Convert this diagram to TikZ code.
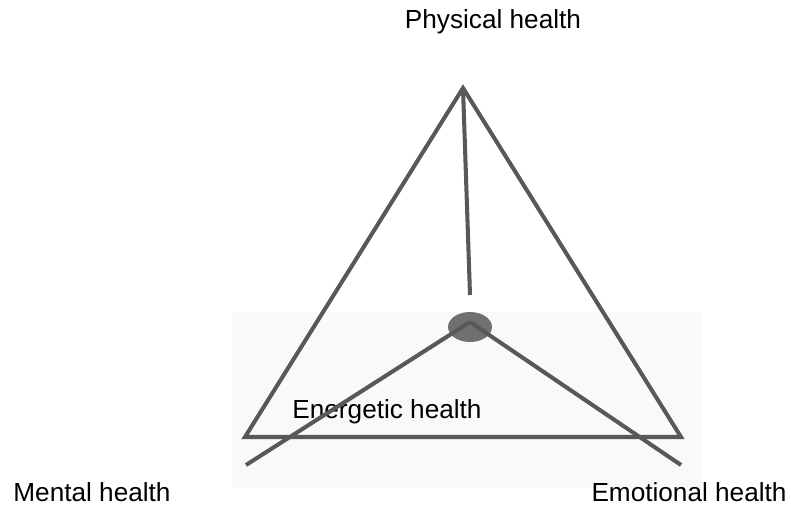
\documentclass[tikz,border=0pt]{standalone}
\usepackage{fontspec}
\setmainfont{Liberation Sans}
\definecolor{hgray}{RGB}{88,88,88}
\definecolor{hdot}{RGB}{112,112,112}
\definecolor{hshade}{RGB}{249,249,249}
\usetikzlibrary{positioning,calc,shapes.geometric}

\tikzset{
  edge/.style={draw=hgray, line width=2.3pt},
  label/.style={font=\fontsize{14.9}{17}\selectfont, text=black, inner sep=0pt}
}

\begin{document}
\begin{tikzpicture}[x=0.02cm, y=-0.02cm]
  \useasboundingbox (0,0) rectangle (791,505);

  %% faint backdrop behind the lower half
  \fill[hshade] (232,312) rectangle (702,488);

  %% corners of the triangle
  \coordinate (top) at (463,88);
  \coordinate (left) at (245,437);
  \coordinate (right) at (681,437);

  %% labels
  \node[label] (phys) at (493,22) {Physical health};
  \node[label] (ment) at (92,492) {Mental health};
  \node[label] (emo) at (689,492) {Emotional health};
  \node[label] (ener) at (387,412) {Energetic health};

  \draw[edge, line join=miter] (top) -- (left) -- (right) -- cycle;

  %% centre and spokes
  \node[ellipse, fill=hdot, inner sep=0pt,
        minimum width=0.88cm, minimum height=0.6cm] (core) at (470,327) {};
  \coordinate (stop) at (470,295);
  \coordinate (mend) at (246,465);
  \coordinate (eend) at (681,465);

  \draw[edge] (top) -- (stop);
  \draw[edge] ($(core.center)+(0,-5)$) -- (mend);
  \draw[edge] ($(core.center)+(0,-5)$) -- (eend);
\end{tikzpicture}
\end{document}
